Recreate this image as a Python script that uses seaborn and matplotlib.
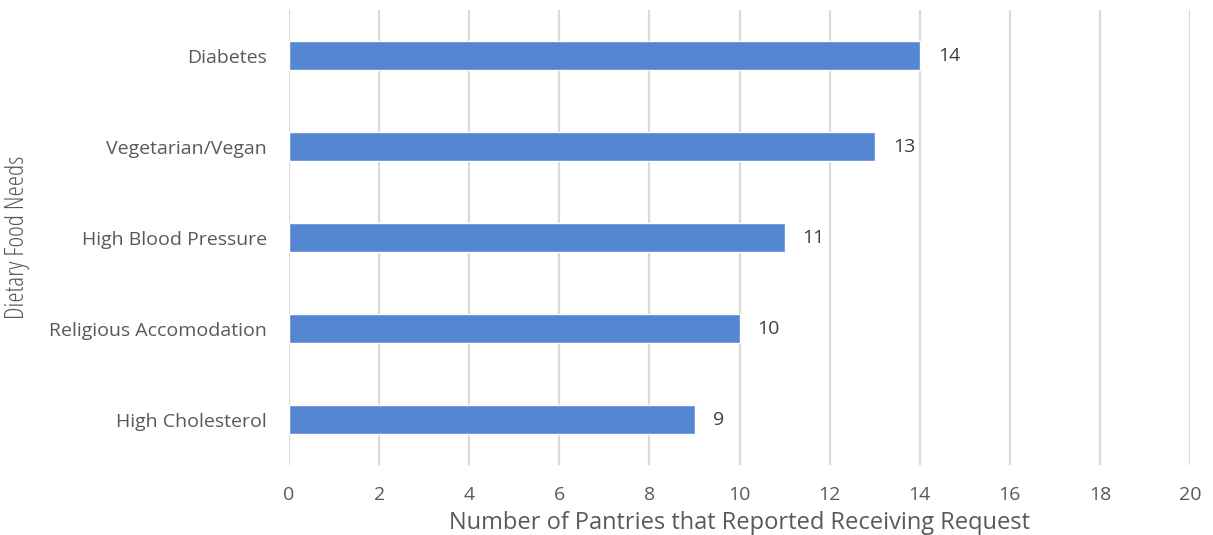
import matplotlib
matplotlib.use("Agg")
import matplotlib.pyplot as plt
import seaborn as sns
import pandas as pd

categories = ["Diabetes", "Vegetarian/Vegan", "High Blood Pressure",
              "Religious Accomodation", "High Cholesterol"]
counts = [14, 13, 11, 10, 9]
x_ticks = [0, 2, 4, 6, 8, 10, 12, 14, 16, 18, 20]

sns.set_theme(style="white")
plt.rcParams["font.family"] = ["Open Sans", "DejaVu Sans"]

text_color = "#595959"
bar_color = "#5586D1"

df = pd.DataFrame({"need": categories, "count": counts})

fig = plt.figure(figsize=(12.13, 5.35), dpi=100)
ax = fig.add_axes([0.2383, 0.1308, 0.7428, 0.8505])

sns.barplot(data=df, y="need", x="count", orient="h", color=bar_color,
            width=0.31, saturation=1, ax=ax, zorder=3)

ax.set_xlim(0, 20)
ax.set_ylim(4.5, -0.5)
ax.set_xticks(x_ticks)
ax.set_xticklabels([str(t) for t in x_ticks])
ax.grid(axis="x", color="#d9d9d9", linewidth=1.6, zorder=0)
ax.grid(axis="y", visible=False)
for s in ax.spines.values():
    s.set_visible(False)

ax.tick_params(axis="both", length=0, colors=text_color, labelsize=14)
ax.tick_params(axis="y", pad=16)
ax.tick_params(axis="x", pad=15)

for i, v in enumerate(counts):
    ax.text(v + 0.4, i, str(v), va="center", ha="left", fontsize=14,
            color="#404040")

ax.set_xlabel("Number of Pantries that Reported Receiving Request",
              fontsize=17, color=text_color, labelpad=5)
ax.set_ylabel("Dietary Food Needs", fontsize=18.5, color=text_color,
              fontstretch="condensed")
ax.yaxis.set_label_coords(-0.288, 0.5)

fig.savefig("out.png", dpi=100)
